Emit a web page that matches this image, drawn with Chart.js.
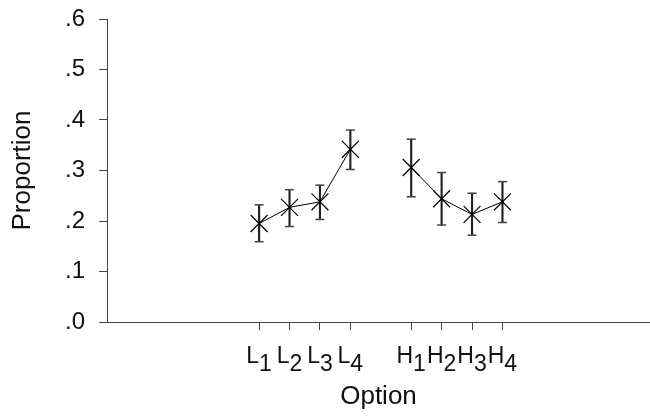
<!DOCTYPE html>
<html>
<head>
<meta charset="utf-8">
<script src="https://cdn.jsdelivr.net/npm/chart.js@4/dist/chart.umd.min.js"></script>
<style>
  html, body { margin: 0; padding: 0; background: #fff; }
  #wrap { width: 650px; height: 417px; }
</style>
</head>
<body>
<div id="wrap"><canvas id="chart" width="650" height="417"></canvas></div>
<script>
// option labels: letter + subscript, and their place on the x axis
const optLetters = ["L", "L", "L", "L", "H", "H", "H", "H"];
const optSubs = ["1", "2", "3", "4", "1", "2", "3", "4"];
const optPos = [0, 1, 2, 3, 5, 6, 7, 8];
const optGroup = ["L", "L", "L", "L", "H", "H", "H", "H"];

// proportion and its error bar ends
const proportion = [0.195, 0.227, 0.238, 0.342, 0.306, 0.244, 0.213, 0.238];
const lower = [0.159, 0.189, 0.203, 0.302, 0.248, 0.192, 0.172, 0.197];
const upper = [0.232, 0.262, 0.271, 0.380, 0.362, 0.296, 0.255, 0.278];

const yTicks = [0, 0.1, 0.2, 0.3, 0.4, 0.5, 0.6];

const FONT = "'Liberation Sans', Arial, sans-serif";

function groupPoints(g) {
    return optPos.map((x, i) => ({ x: x, y: proportion[i], g: optGroup[i] }))
        .filter(p => p.g === g)
        .map(p => ({ x: p.x, y: p.y }));
}

// subscripted tick labels for the x axis
const subLabels = {
    id: "subLabels",
    afterDraw(chart) {
        const ctx = chart.ctx;
        const xs = chart.scales.x;
        ctx.save();
        ctx.fillStyle = "#111";
        ctx.textBaseline = "alphabetic";
        ctx.textAlign = "left";
        optPos.forEach((v, i) => {
            const px = xs.getPixelForValue(v);
            ctx.font = "23px " + FONT;
            const w1 = ctx.measureText(optLetters[i]).width;
            const w2 = ctx.measureText(optSubs[i]).width;
            const start = px - (w1 + w2) / 2;
            ctx.fillText(optLetters[i], start, 363);
            ctx.fillText(optSubs[i], start + w1, 371);
        });
        ctx.restore();
    }
};

const ctx = document.getElementById("chart").getContext("2d");
new Chart(ctx, {
    type: "scatter",
    data: {
        datasets: [
            {
                type: "bar",
                label: "ci",
                data: optPos.map((x, i) => ({ x: x, y: [lower[i], upper[i]] })),
                backgroundColor: "#222",
                borderWidth: 0,
                barThickness: 1.5,
                order: 3
            },
            {
                label: "caps",
                data: optPos.flatMap((x, i) => [{ x: x, y: lower[i] }, { x: x, y: upper[i] }]),
                pointStyle: "line",
                pointRadius: 4.5,
                borderColor: "#444",
                borderWidth: 1.5,
                showLine: false,
                order: 2
            },
            {
                label: "L",
                data: groupPoints("L"),
                showLine: true,
                borderColor: "#000",
                borderWidth: 1,
                pointStyle: "crossRot",
                pointRadius: 12,
                pointBorderWidth: 1.2,
                pointBorderColor: "#000",
                order: 1
            },
            {
                label: "H",
                data: groupPoints("H"),
                showLine: true,
                borderColor: "#000",
                borderWidth: 1,
                pointStyle: "crossRot",
                pointRadius: 12,
                pointBorderWidth: 1.2,
                pointBorderColor: "#000",
                order: 1
            }
        ]
    },
    options: {
        responsive: false,
        animation: false,
        layout: { autoPadding: false, padding: { top: 19, right: 0, left: 0, bottom: 0 } },
        plugins: {
            legend: { display: false },
            tooltip: { enabled: false }
        },
        scales: {
            x: {
                type: "linear",
                min: -5,
                max: 12.85,
                offset: false,
                afterBuildTicks: s => { s.ticks = optPos.map(v => ({ value: v })); },
                afterFit: s => { s.height = 95; s.paddingLeft = 0; s.paddingRight = 0; },
                grid: { offset: false, drawOnChartArea: false, drawTicks: true, tickLength: 8, color: "#444" },
                border: { display: true, color: "#444", width: 1 },
                ticks: { color: "transparent", autoSkip: false, font: { size: 23, family: FONT }, callback: (v, i) => optLetters[i] + optSubs[i] },
                title: {
                    display: true,
                    text: "Option",
                    color: "#111",
                    font: { size: 26, family: FONT },
                    padding: { top: 0, bottom: 5 }
                }
            },
            y: {
                min: 0,
                max: 0.6,
                afterBuildTicks: s => { s.ticks = yTicks.map(v => ({ value: v })); },
                afterFit: s => { s.width = 107; s.paddingTop = 0; s.paddingBottom = 0; },
                grid: { drawOnChartArea: false, drawTicks: true, tickLength: 8, color: "#444" },
                border: { display: true, color: "#444", width: 1 },
                ticks: {
                    color: "#111",
                    padding: 14,
                    font: { size: 24, family: FONT },
                    callback: v => "." + Math.round(v * 10)
                },
                title: {
                    display: true,
                    text: "Proportion",
                    color: "#111",
                    font: { size: 26, family: FONT },
                    padding: { top: 7, bottom: 0 }
                }
            }
        }
    },
    plugins: [subLabels]
});
</script>
</body>
</html>
